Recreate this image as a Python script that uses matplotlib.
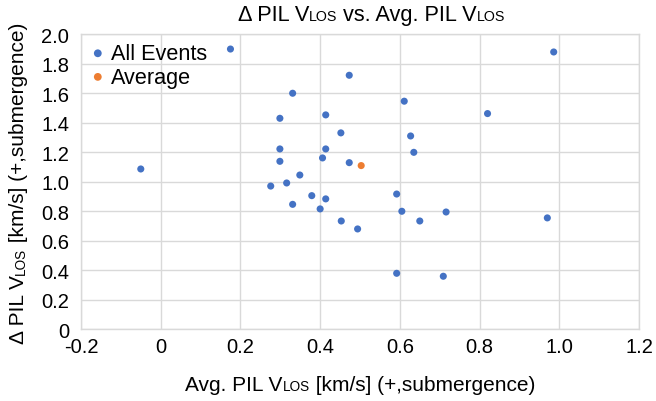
import matplotlib
matplotlib.use("Agg")
import matplotlib.pyplot as plt

# ---- data ----
all_x = [0.175, 0.473, 0.331, 0.299, 0.414, 0.452, 0.299, 0.414, 0.299, 0.406,
         0.473, -0.050, 0.349, 0.316, 0.276, 0.986, 0.611, 0.820, 0.627, 0.635,
         0.379, 0.414, 0.331, 0.400, 0.453, 0.494, 0.592, 0.605, 0.716, 0.650,
         0.970, 0.592, 0.709]
all_y = [1.900, 1.722, 1.600, 1.430, 1.453, 1.331, 1.222, 1.222, 1.138, 1.161,
         1.129, 1.086, 1.045, 0.991, 0.970, 1.880, 1.546, 1.462, 1.310, 1.199,
         0.905, 0.883, 0.846, 0.815, 0.733, 0.679, 0.916, 0.799, 0.794, 0.733,
         0.754, 0.378, 0.358]
avg_x = [0.503]
avg_y = [1.109]

x_ticks = [-0.2, 0, 0.2, 0.4, 0.6, 0.8, 1.0, 1.2]
x_ticklabels = ["-0.2", "0", "0.2", "0.4", "0.6", "0.8", "1.0", "1.2"]
y_ticks = [0, 0.2, 0.4, 0.6, 0.8, 1.0, 1.2, 1.4, 1.6, 1.8, 2.0]
y_ticklabels = ["0", "0.2", "0.4", "0.6", "0.8", "1.0", "1.2", "1.4", "1.6", "1.8", "2.0"]

title_pieces = [("Δ PIL V", False), ("LOS", True), (" vs. Avg. PIL V", False), ("LOS", True)]
xlabel_pieces = [("Avg. PIL V", False), ("LOS", True), (" [km/s] (+,submergence)", False)]
ylabel_pieces = [("Δ PIL V", False), ("LOS", True), (" [km/s] (+,submergence)", False)]

FONT = "Liberation Sans"
plt.rcParams["font.family"] = [FONT, "DejaVu Sans"]

W, H = 656, 402
fig = plt.figure(figsize=(W / 100, H / 100), dpi=100)
ax = fig.add_axes([81 / W, 1 - 330 / H, (639 - 81) / W, (330 - 35.3) / H])

grid_c = "#D9D9D9"
ax.set_xlim(-0.2, 1.2)
ax.set_ylim(0, 2.0)
ax.set_xticks(x_ticks)
ax.set_xticklabels(x_ticklabels)
ax.set_yticks(y_ticks)
ax.set_yticklabels(y_ticklabels)
ax.grid(True, color=grid_c, linewidth=1.0)
ax.set_axisbelow(True)
for s in ax.spines.values():
    s.set_color(grid_c)
    s.set_linewidth(1.0)
ax.tick_params(length=0, labelsize=14.5, colors="#000000")
ax.tick_params(axis="y", pad=8.5)
ax.tick_params(axis="x", pad=6)

ax.scatter(all_x, all_y, s=26, color="#4472C4", edgecolors="none", label="All Events", zorder=3)
ax.scatter(avg_x, avg_y, s=26, color="#ED7D31", edgecolors="none", label="Average", zorder=3)

leg = ax.legend(loc="upper left", frameon=False, fontsize=15.6, handletextpad=0.25,
                borderaxespad=0.0, labelspacing=0.12, handlelength=0.75, borderpad=0.4,
                markerscale=1.1)

renderer = fig.canvas.get_renderer()


def text_width(s, size):
    t1 = fig.text(0, 0, "x" + s + "x", fontsize=size)
    t2 = fig.text(0, 0, "xx", fontsize=size)
    w = t1.get_window_extent(renderer).width - t2.get_window_extent(renderer).width
    t1.remove()
    t2.remove()
    return w


def rich(pieces, cx, cy, big, small, rotation=0):
    """Place pieces centred at (cx, cy) pixel coords from top-left; cy is baseline."""
    sizes = [small if sm else big for _, sm in pieces]
    widths = [text_width(s, sz) for (s, _), sz in zip(pieces, sizes)]
    total = sum(widths)
    pos = -total / 2
    for (s, _), sz, w in zip(pieces, sizes, widths):
        if rotation == 0:
            px, py = cx + pos, cy
        else:
            px, py = cx, cy - pos
        fig.text(px / W, 1 - py / H, s, fontsize=sz, ha="left", va="baseline",
                 rotation=rotation, rotation_mode="anchor", color="#000000")
        pos += w


rich(title_pieces, 371.5, 20.7, 15.7, 10.3)
rich(xlabel_pieces, 360, 391.5, 15.0, 9.8)
rich(ylabel_pieces, 24.5, 183.5, 15.0, 9.8, rotation=90)

fig.savefig("out.png", dpi=100)
